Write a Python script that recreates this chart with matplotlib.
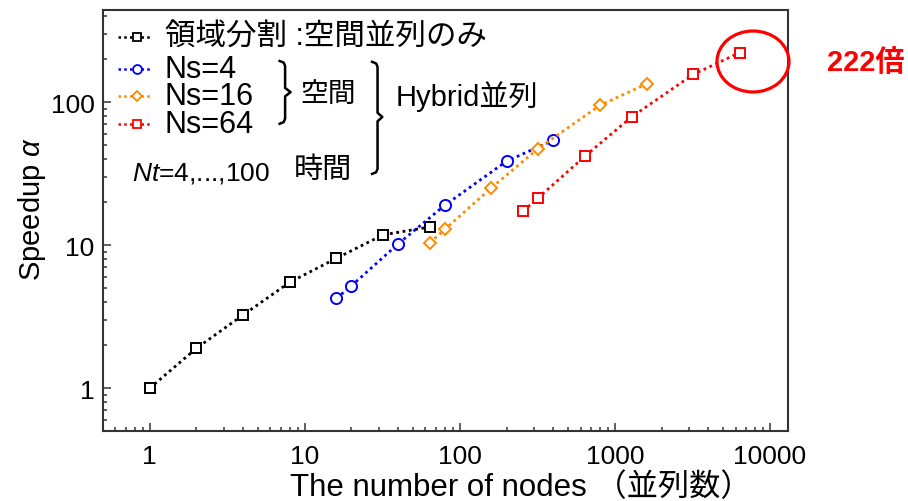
import matplotlib
matplotlib.use('Agg')
import matplotlib.pyplot as plt
from matplotlib.lines import Line2D
from matplotlib.patches import Ellipse
from matplotlib.ticker import LogLocator, NullFormatter

plt.rcParams['font.family'] = ['Liberation Sans', 'Noto Sans CJK JP']
plt.rcParams['mathtext.fontset'] = 'custom'
plt.rcParams['mathtext.rm'] = 'Liberation Sans'
plt.rcParams['mathtext.it'] = 'Liberation Sans:italic'

# domain decomposition only (spatial parallel)
nodes_dd = [1, 2, 4, 8, 16, 32, 64]
speedup_dd = [1.0, 1.9, 3.25, 5.5, 8.1, 11.8, 13.4]

# hybrid: Ns spatial x Nt = 4, 5, 10, 20, 50, 100 temporal
nodes_ns4 = [16, 20, 40, 80, 200, 400]
speedup_ns4 = [4.25, 5.2, 10.2, 19.0, 38.6, 54.0]
nodes_ns16 = [64, 80, 160, 320, 800, 1600]
speedup_ns16 = [10.4, 12.9, 25.2, 47.3, 94.8, 134.0]
nodes_ns64 = [256, 320, 640, 1280, 3200, 6400]
speedup_ns64 = [17.3, 21.4, 41.8, 78.7, 156.0, 222.0]

labels = ['領域分割 :空間並列のみ', 'Ns=4', 'Ns=16', 'Ns=64']
xticks = [1, 10, 100, 1000, 10000]
yticks = [1, 10, 100]
best = speedup_ns64[-1]

series = [
    (nodes_dd, speedup_dd, 'black', 's', 7),
    (nodes_ns4, speedup_ns4, 'blue', 'o', 8),
    (nodes_ns16, speedup_ns16, '#ff8a00', 'D', 6),
    (nodes_ns64, speedup_ns64, 'red', 's', 7),
]
dots = (0, (1, 1.3))

fig = plt.figure(figsize=(9.08, 5.02), dpi=100)
ax = fig.add_axes([0.1134, 0.1388, 0.7541, 0.8393])

for x, y, c, m, ms in series:
    ax.plot(x, y, ls=dots, lw=2.0, color=c, marker=m, ms=ms,
            mfc='white', mec=c, mew=1.4)

ax.set_xscale('log')
ax.set_yscale('log')
ax.set_xlim(0.5, 13000)
ax.set_ylim(0.5, 440)
ax.set_xticks(xticks)
ax.set_xticklabels([str(t) for t in xticks])
ax.set_yticks(yticks)
ax.set_yticklabels([str(t) for t in yticks])
ax.xaxis.set_minor_locator(LogLocator(base=10, subs=range(2, 10), numticks=20))
ax.yaxis.set_minor_locator(LogLocator(base=10, subs=range(2, 10), numticks=20))
ax.xaxis.set_minor_formatter(NullFormatter())
ax.yaxis.set_minor_formatter(NullFormatter())
ax.tick_params(which='both', direction='in', top=False, right=False,
               color='#333333', width=1.1)
ax.tick_params(which='major', length=5.5, labelsize=19)
ax.tick_params(which='minor', length=3)
ax.tick_params(axis='x', pad=9)
ax.tick_params(axis='y', pad=6)
for s in ax.spines.values():
    s.set_color('#333333')
    s.set_linewidth(1.5)

ax.set_ylabel('Speedup $\\mathit{\\alpha}$', fontsize=21)
ax.yaxis.set_label_coords(-0.08, 0.53)
fig.text(290 / 908, 1 - 496 / 502, 'The number of nodes （並列数）',
         fontsize=22.5, ha='left', va='baseline')

# hand-made legend
rows = [0.936, 0.860, 0.796, 0.730]
for (x, y, c, m, ms), lab, ry in zip(series, labels, rows):
    ax.add_line(Line2D([0.022, 0.072], [ry, ry], transform=ax.transAxes,
                       ls=dots, lw=1.8, color=c))
    ax.add_line(Line2D([0.05], [ry], transform=ax.transAxes, ls='none',
                       marker=m, ms=ms * 0.8, mfc='white', mec=c, mew=1.3))
    ax.text(0.09, ry, lab, transform=ax.transAxes, fontsize=22,
            va='center', ha='left')


def brace(x, top, bottom, mid, tip):
    xs = [x - 0.008, x - 0.002, x, x, tip, x, x, x - 0.002, x - 0.008]
    ys = [top, top - 0.004, top - 0.012, mid + 0.01, mid, mid - 0.01,
          bottom + 0.012, bottom + 0.004, bottom]
    ax.add_line(Line2D(xs, ys, transform=ax.transAxes, color='black',
                       lw=1.8, solid_joinstyle='round'))


brace(0.266, 0.879, 0.730, 0.805, 0.274)
brace(0.401, 0.877, 0.611, 0.746, 0.408)
ax.text(0.288, 0.800, '空間', transform=ax.transAxes, fontsize=20, va='center')
ax.text(0.427, 0.796, 'Hybrid並列', transform=ax.transAxes, fontsize=21, va='center')
ax.text(0.278, 0.622, '時間', transform=ax.transAxes, fontsize=21, va='center')
ax.text(0.043, 0.615, '$\\mathit{Nt}$=4,...,100', transform=ax.transAxes,
        fontsize=19, va='center')

# highlight the best speedup
fig.add_artist(Ellipse((753 / 908, 1 - 62.5 / 502), 72 / 908, 61 / 502,
                       transform=fig.transFigure, fill=False,
                       edgecolor='red', lw=2.3))
fig.text(827 / 908, 1 - 63 / 502, f'{best:.0f}倍', color='red',
         fontsize=21, fontweight='bold', va='center', ha='left')

fig.savefig('out.png', dpi=100)
